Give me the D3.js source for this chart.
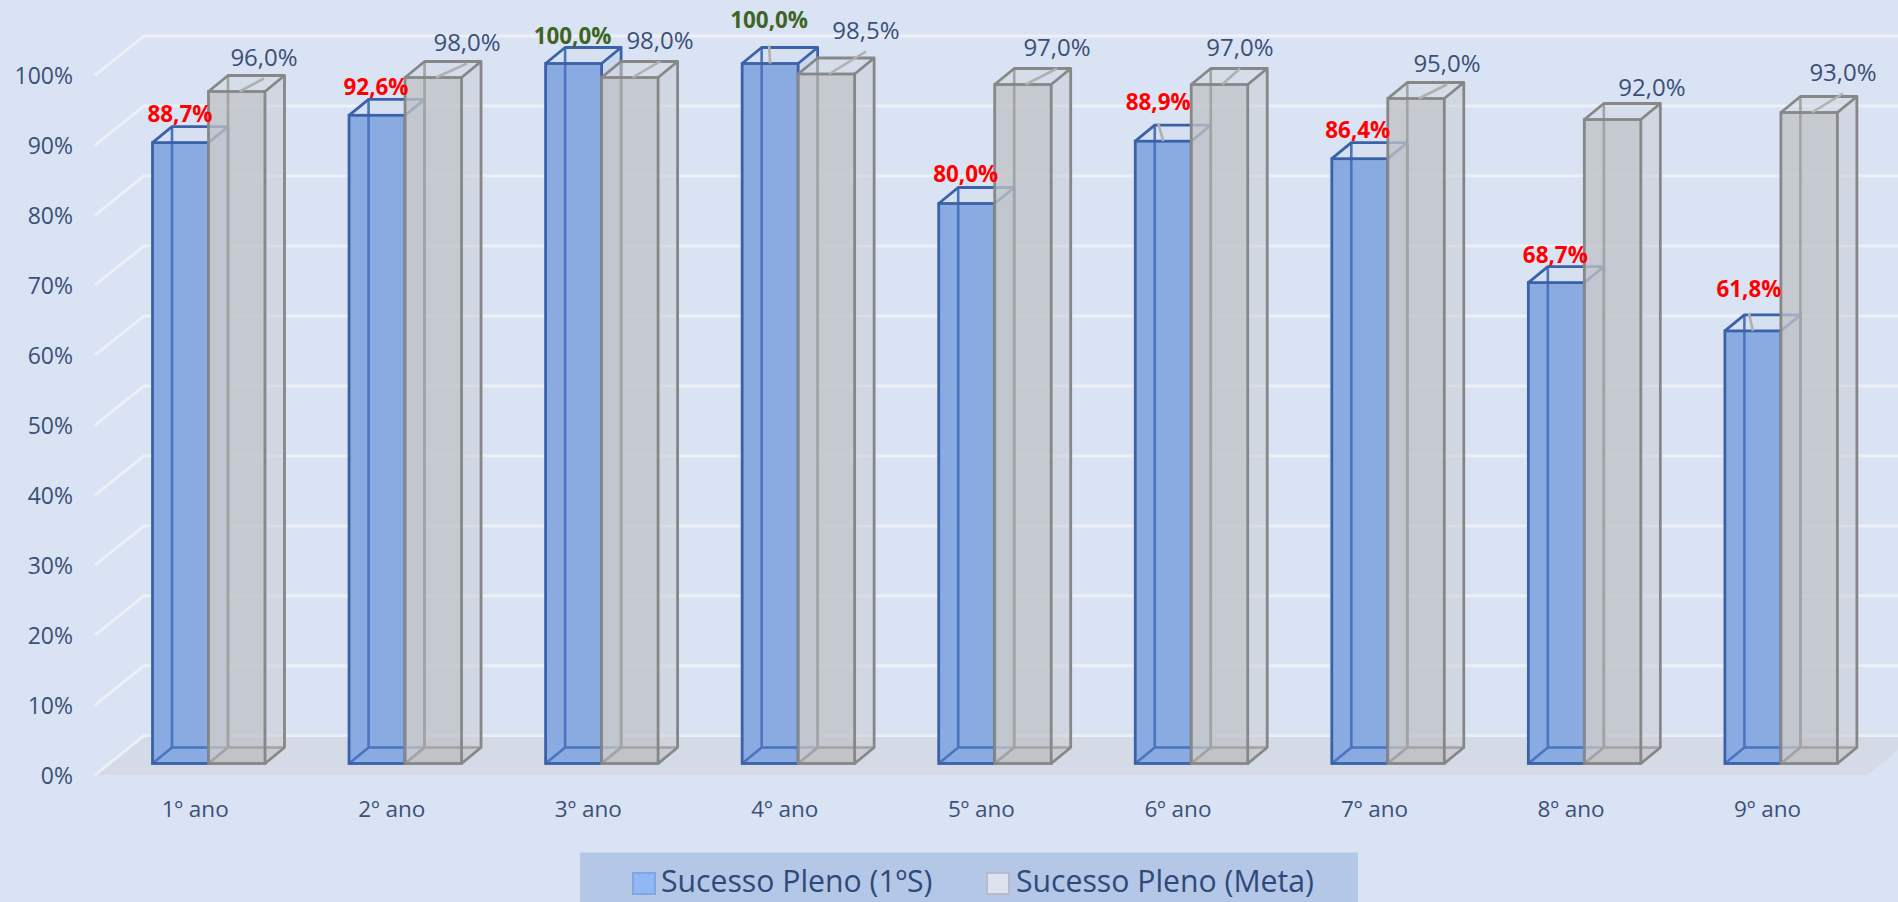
<!DOCTYPE html>
<html><head><meta charset="utf-8">
<script src="https://cdn.jsdelivr.net/npm/d3@7/dist/d3.min.js"></script>
<style>html,body{margin:0;padding:0;background:#DAE3F3;overflow:hidden}svg{display:block}text{font-family:"Open Sans",sans-serif}</style>
</head><body><svg id="c" width="1898" height="902"></svg>
<script>
const categories=["1º ano","2º ano","3º ano","4º ano","5º ano","6º ano","7º ano","8º ano","9º ano"];
const serieNames=["Sucesso Pleno (1ºS)","Sucesso Pleno (Meta)"];
const sucesso=[88.7,92.6,100,100,80,88.9,86.4,68.7,61.8];
const meta=[96,98,98,98.5,97,97,95,92,93];
const yTicks=[0,10,20,30,40,50,60,70,80,90,100];
// manual label placement as (dx,dy) from the top-front centre of each bar
const shiftSucesso=[[-0.5,-26.5],[-1,-26.5],[-1,-25.5],[-1,-41.5],[-1,-27.5],[-5,-37],[-2,-26.5],[-1,-25.5],[-4,-39.5]];
const shiftMeta=[[27.5,-32],[34,-33],[30.4,-35],[39.8,-41.5],[34.3,-35],[20.7,-35],[31.2,-33],[39.6,-30],[34.1,-38]];
const leaderSucesso=[0,0,0,1,0,1,0,0,1];
const leaderMeta=[1,1,1,1,1,1,1,0,1];

const fmt=v=>v.toFixed(1).replace(".",",")+"%";
const svg=d3.select("#c");
const W=1898;
const y=d3.scaleLinear().domain([0,100]).range([763.5,63.5]);
const x=d3.scaleBand().domain(categories).range([110.22,1879.17]).paddingInner(0.4302).paddingOuter(0.2151);
const depth={dx:19.5,dy:16};
const gridFront={x:95,base:775}, gridBack={x:144,base:735.7}, gridStep=6.997;

svg.append("path").attr("d",d3.line()([[gridFront.x,gridFront.base],[gridBack.x,gridBack.base],[1916,gridBack.base],[1867,gridFront.base]])+"Z").attr("fill","#D5DBE6");
svg.append("g").selectAll("path").data(yTicks).join("path")
 .attr("d",t=>{const ty=-t*gridStep;return d3.line()([[gridFront.x,gridFront.base+ty],[gridBack.x,gridBack.base+ty],[W,gridBack.base+ty]]);})
 .attr("fill","none").attr("stroke","#EDF0F6").attr("stroke-width",2.8);
svg.append("g").selectAll("text").data(yTicks).join("text")
 .attr("x",73).attr("y",t=>gridFront.base-t*gridStep+3).attr("text-anchor","end").attr("dominant-baseline","middle")
 .attr("font-size",23).attr("fill","#3B5078").text(t=>t+"%");
svg.append("g").selectAll("text").data(categories).join("text")
 .attr("x",c=>x(c)+42.7).attr("y",811).attr("text-anchor","middle").attr("dominant-baseline","middle")
 .attr("font-size",22.5).attr("fill","#3B5078").text(c=>c);

function drawBar(g,x0,w,v,fills,stroke,strokeBack){
  const t=y(v),b=y(0),dx=depth.dx,dy=depth.dy;
  g.append("path").attr("d",`M${x0},${b}L${x0+dx},${b-dy}L${x0+w+dx},${b-dy}L${x0+w},${b}Z`).attr("fill",fills.bottom);
  g.append("path").attr("d",`M${x0+w},${t}L${x0+w+dx},${t-dy}L${x0+w+dx},${b-dy}L${x0+w},${b}Z`).attr("fill",fills.side);
  g.append("path").attr("d",`M${x0},${t}L${x0+dx},${t-dy}L${x0+w+dx},${t-dy}L${x0+w},${t}Z`).attr("fill",fills.top);
  g.append("rect").attr("x",x0).attr("y",t).attr("width",w).attr("height",b-t).attr("fill",fills.front);
  g.append("path").attr("d",`M${x0+dx},${t-dy}L${x0+dx},${b-dy}M${x0},${b}L${x0+dx},${b-dy}L${x0+w+dx},${b-dy}`).attr("fill","none").attr("stroke",strokeBack).attr("stroke-width",2.6);
  g.append("path").attr("d",`M${x0},${t}L${x0+dx},${t-dy}L${x0+w+dx},${t-dy}L${x0+w},${t}M${x0+w+dx},${t-dy}L${x0+w+dx},${b-dy}L${x0+w},${b}`).attr("fill","none").attr("stroke",stroke).attr("stroke-width",2.8).attr("stroke-linejoin","round");
  g.append("rect").attr("x",x0).attr("y",t).attr("width",w).attr("height",b-t).attr("fill","none").attr("stroke",stroke).attr("stroke-width",2.8);
}
const blue={front:"#8AAAE2",side:"#CBD7EC",top:"#D6E0F1",bottom:"#8AAAE2"};
const grey={front:"rgba(191,193,197,0.78)",side:"rgba(200,204,212,0.55)",top:"rgba(210,216,226,0.5)",bottom:"rgba(190,190,190,0.6)"};
const bars=svg.append("g");
const bw=x.bandwidth()/2;
categories.forEach((c,i)=>{
  const x0=x(c);
  drawBar(bars.append("g"),x0,bw,sucesso[i],blue,"#3A62A8","#4A74BE");
  drawBar(bars.append("g"),x0+bw,bw+0.5,meta[i],grey,"#878787","#A3A3A3");
});
const lab=svg.append("g"), lead=svg.append("g");
categories.forEach((c,i)=>{
  const x1=x(c)+bw/2, x2=x(c)+bw*1.5;
  const ly1=y(sucesso[i])+shiftSucesso[i][1], lx1=x1+shiftSucesso[i][0];
  const ly2=y(meta[i])+shiftMeta[i][1], lx2=x2+shiftMeta[i][0];
  if(leaderSucesso[i]) lead.append("line").attr("x1",x1).attr("y1",y(sucesso[i])).attr("x2",lx1).attr("y2",y(sucesso[i])-18).attr("stroke","#B0B0B0").attr("stroke-width",2.6);
  if(leaderMeta[i]) lead.append("line").attr("x1",x2+3).attr("y1",y(meta[i])).attr("x2",lx2).attr("y2",ly2+19).attr("stroke","#B0B0B0").attr("stroke-width",2.6);
  lab.append("text").attr("x",lx1).attr("y",ly1).attr("text-anchor","middle").attr("dominant-baseline","middle")
    .attr("font-size",22.4).attr("font-weight",700).attr("fill",sucesso[i]>=100?"#3F6426":"#FF0000").text(fmt(sucesso[i]));
  lab.append("text").attr("x",lx2).attr("y",ly2).attr("text-anchor","middle").attr("dominant-baseline","middle")
    .attr("font-size",24).attr("fill","#3B5078").text(fmt(meta[i]));
});
svg.append("rect").attr("x",580).attr("y",852.5).attr("width",778).attr("height",50).attr("fill","#B4C7E7");
const legendX=[[633,661],[987,1016]];
const legendFill=["#8FB8F5","#DCE3EE"], legendStroke=["#7FA6E0","#B5BCC8"];
serieNames.forEach((n,i)=>{
  svg.append("rect").attr("x",legendX[i][0]).attr("y",873).attr("width",22).attr("height",21).attr("fill",legendFill[i]).attr("stroke",legendStroke[i]).attr("stroke-width",2);
  svg.append("text").attr("x",legendX[i][1]).attr("y",884).attr("dominant-baseline","middle").attr("font-size",30.2).attr("fill","#2F4A78").text(n);
});
</script></body></html>
